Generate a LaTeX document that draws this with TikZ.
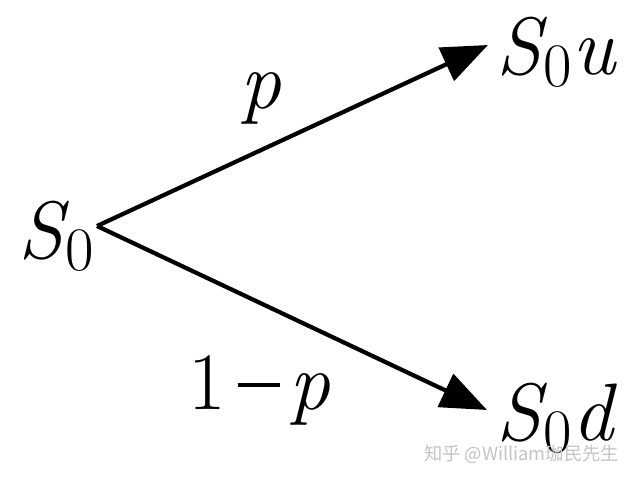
\documentclass[tikz,border=0pt]{standalone}
\usepackage{fontspec}
\newfontfamily\cjk{Noto Sans CJK SC}
\usetikzlibrary{arrows.meta,positioning,calc}
\definecolor{wm}{HTML}{C4C4C4}
\newcommand\subz[1]{\kern-0.04em\raisebox{-0.3cm}{\fontsize{44}{44}\selectfont #1}}
\begin{document}
\begin{tikzpicture}[font=\fontsize{58}{60}\selectfont,
      lbl/.style={inner sep=0pt,anchor=base west},
      arr/.style={line width=3pt,-{Triangle[length=1.15cm,width=0.9cm]}}]
    \useasboundingbox[fill=white] (0,0) rectangle (16,12);
    \node[lbl](s0) at (0.45,5.55){\textit{S}\subz{0}};
    \node[lbl](su) at (12.4,10.125){\textit{S}\subz{0}\textit{u}};
    \node[lbl](sd) at (12.4,1.0){\textit{S}\subz{0}\textit{d}};
    \coordinate (o) at (2.425,6.35);
    \coordinate (tu) at (12.2,10.875); \coordinate (td) at (12.175,1.75);
    \draw[arr] (o) -- (tu);
    \draw[arr] (o) -- (td);
    \node[lbl](pu) at (6.0,9.3){\textit{p}};
    \node[lbl](pd) at (4.7,1.775){1\hspace{0.3cm}\rule[0.55cm]{1.05cm}{2.8pt}\hspace{0.25cm}\textit{p}};
    \node[lbl,anchor=west,text=wm,font=\cjk\fontsize{13}{15}\selectfont](wmk) at (10.6,0.63){知乎 @William珈民先生};
  \end{tikzpicture}
\end{document}
